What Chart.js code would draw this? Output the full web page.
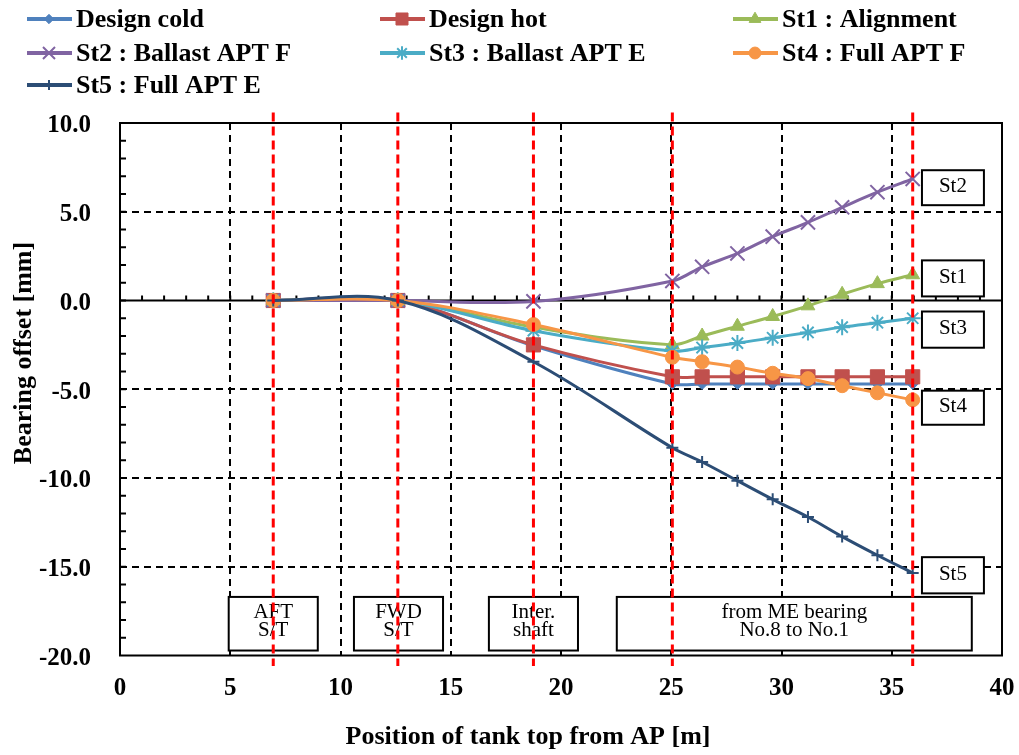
<!DOCTYPE html>
<html>
<head>
<meta charset="utf-8">
<script src="https://cdn.jsdelivr.net/npm/chart.js"></script>
<style>
  html, body { margin: 0; background: #fff; }
  #wrap { width: 1019px; height: 755px; }
</style>
</head>
<body>
<div id="wrap"><canvas id="chart" width="1019" height="755"></canvas></div>
<script>
// bearing positions [m] (tank top from AP)
const positions = [6.95, 12.6, 18.75, 25.05, 26.4, 28.0, 29.6, 31.2, 32.75, 34.35, 35.95];

// bearing offsets [mm]
const designCold = [0, 0, -2.55, -4.7, -4.7, -4.7, -4.7, -4.7, -4.7, -4.7, -4.7];
const designHot  = [0, 0, -2.5, -4.3, -4.3, -4.3, -4.3, -4.3, -4.3, -4.3, -4.3];
const st1 = [0, 0, -1.5, -2.5, -2.0, -1.45, -0.9, -0.3, 0.35, 0.95, 1.45];
const st2 = [0, 0, -0.05, 1.1, 1.9, 2.65, 3.6, 4.4, 5.25, 6.1, 6.85];
const st3 = [0, 0, -1.7, -2.85, -2.65, -2.4, -2.1, -1.8, -1.5, -1.25, -1.0];
const st4 = [0, 0, -1.35, -3.2, -3.45, -3.75, -4.1, -4.4, -4.8, -5.2, -5.6];
const st5 = [0, 0, -3.45, -8.3, -9.1, -10.15, -11.2, -12.2, -13.3, -14.35, -15.35];

const seriesNames = ["Design cold", "Design hot", "St1 : Alignment", "St2 : Ballast APT F",
  "St3 : Ballast APT E", "St4 : Full APT F", "St5 : Full APT E"];

// red section lines and their labels
const sectionLines = [6.95, 12.6, 18.75, 25.05, 35.95];
const sectionLabels = [["AFT", "S/T"], ["FWD", "S/T"], ["Inter.", "shaft"], ["from ME bearing", "No.8 to No.1"]];
const caseLabels = ["St2", "St1", "St3", "St4", "St5"];

// --- layout / styling below ---
const SERIF = "'Liberation Serif', 'Times New Roman', serif";
const styles = [
  { color: "#4F81BD", point: "rectRot", r: 5.5, bw: 1 },
  { color: "#C0504D", point: "rect", r: 10, bw: 1 },
  { color: "#9BBB59", point: "triangle", r: 8, bw: 1 },
  { color: "#8064A2", point: "crossRot", r: 10, bw: 2 },
  { color: "#4BACC6", point: "star", r: 8, bw: 2 },
  { color: "#F79646", point: "circle", r: 7, bw: 1 },
  { color: "#2C4D75", point: "cross", r: 6, bw: 2 },
];
const seriesValues = [designCold, designHot, st1, st2, st3, st4, st5];

// boxes in data units
const sectionBoxes = [[4.93, 8.97], [10.61, 14.65], [16.73, 20.77], [22.53, 38.63]];
const sectionBoxY = [-16.7, -19.72];
const caseBoxX = [36.37, 39.18];
const caseBoxY = [[7.34, 5.37], [2.26, 0.23], [-0.62, -2.66], [-5.08, -7.0], [-14.46, -16.5]];

const legendCols = [27, 380, 733];
const legendRows = [19, 53, 85];

const datasets = seriesValues.map((vals, i) => ({
  label: seriesNames[i],
  data: vals.map((v, k) => ({ x: positions[k], y: v })),
  borderColor: styles[i].color,
  backgroundColor: styles[i].color,
  pointStyle: styles[i].point,
  pointRadius: styles[i].r,
  pointBorderWidth: styles[i].bw,
  pointBackgroundColor: styles[i].color,
  pointBorderColor: styles[i].color,
  borderWidth: 3,
  tension: 0.35,
  order: seriesValues.length - i,
}));

function seg(ctx, x0, y0, x1, y1) {
  ctx.beginPath(); ctx.moveTo(x0, y0); ctx.lineTo(x1, y1); ctx.stroke();
}

const decor = {
  id: "decor",
  beforeDatasetsDraw(chart) {
    const { ctx, chartArea: a, scales: { x, y } } = chart;
    ctx.save();
    ctx.strokeStyle = "#000";
    ctx.lineWidth = 2;
    // zero line and minor ticks
    const y0 = y.getPixelForValue(0);
    seg(ctx, a.left, y0, a.right, y0);
    for (let v = -19; v < 10; v++) {
      const py = y.getPixelForValue(v);
      seg(ctx, a.left, py, a.left + 6, py);
    }
    for (let v = 1; v < 40; v++) {
      const px = x.getPixelForValue(v);
      seg(ctx, px, y0, px, y0 - 5);
    }
    // label boxes
    ctx.font = "21px " + SERIF;
    ctx.textAlign = "center";
    ctx.textBaseline = "middle";
    sectionBoxes.forEach((b, i) => {
      const l = x.getPixelForValue(b[0]), r = x.getPixelForValue(b[1]);
      const t = y.getPixelForValue(sectionBoxY[0]), bt = y.getPixelForValue(sectionBoxY[1]);
      ctx.fillStyle = "#fff";
      ctx.fillRect(l, t, r - l, bt - t);
      ctx.strokeRect(l, t, r - l, bt - t);
      ctx.fillStyle = "#000";
      ctx.fillText(sectionLabels[i][0], (l + r) / 2, t + 16);
      ctx.fillText(sectionLabels[i][1], (l + r) / 2, t + 34);
    });
    caseBoxY.forEach((b, i) => {
      const l = x.getPixelForValue(caseBoxX[0]), r = x.getPixelForValue(caseBoxX[1]);
      const t = y.getPixelForValue(b[0]), bt = y.getPixelForValue(b[1]);
      ctx.fillStyle = "#fff";
      ctx.fillRect(l, t, r - l, bt - t);
      ctx.strokeRect(l, t, r - l, bt - t);
      ctx.fillStyle = "#000";
      ctx.fillText(caseLabels[i], (l + r) / 2, (t + bt) / 2 - 1);
    });
    ctx.restore();
  },
  afterDatasetsDraw(chart) {
    const { ctx, chartArea: a, scales: { x } } = chart;
    ctx.save();
    ctx.strokeStyle = "#000";
    ctx.lineWidth = 2;
    ctx.strokeRect(a.left, a.top, a.right - a.left, a.bottom - a.top);
    ctx.strokeStyle = "#FF0000";
    ctx.lineWidth = 3;
    ctx.setLineDash([9, 5]);
    sectionLines.forEach(v => {
      const px = x.getPixelForValue(v);
      seg(ctx, px, a.top - 10.5, px, a.bottom + 10.5);
    });
    ctx.restore();
  },
  afterDraw(chart) {
    const { ctx } = chart;
    ctx.save();
    ctx.fillStyle = "#000";
    ctx.font = "bold 26px " + SERIF;
    ctx.textAlign = "center";
    ctx.textBaseline = "middle";
    ctx.fillText("Position of tank top from AP [m]", 528, 737);
    ctx.translate(24, 353);
    ctx.rotate(-Math.PI / 2);
    ctx.fillText("Bearing offset [mm]", 0, 0);
    ctx.restore();

    // legend
    ctx.save();
    ctx.font = "bold 26px " + SERIF;
    ctx.textBaseline = "middle";
    ctx.textAlign = "left";
    styles.forEach((s, i) => {
      const cx = legendCols[i % 3], cy = legendRows[Math.floor(i / 3)];
      ctx.strokeStyle = s.color;
      ctx.fillStyle = s.color;
      ctx.lineWidth = 4;
      seg(ctx, cx, cy, cx + 45, cy);
      ctx.lineWidth = s.bw;
      if (Chart.helpers && Chart.helpers.drawPoint) {
        Chart.helpers.drawPoint(ctx, { pointStyle: s.point, radius: s.r * 0.85, rotation: 0, borderWidth: s.bw }, cx + 22, cy);
      }
      ctx.fillStyle = "#000";
      ctx.fillText(seriesNames[i], cx + 49, cy + 1);
    });
    ctx.restore();
  },
};

new Chart(document.getElementById("chart"), {
  type: "line",
  data: { datasets },
  plugins: [decor],
  options: {
    responsive: false,
    animation: false,
    devicePixelRatio: 1,
    layout: { padding: { top: 123, right: 17, left: 0, bottom: 0 } },
    plugins: { legend: { display: false }, tooltip: { enabled: false } },
    scales: {
      x: {
        type: "linear",
        min: 0, max: 40,
        afterFit(s) { s.height = 99.5; s.paddingLeft = 0; s.paddingRight = 0; },
        border: { display: false, dash: [7, 5] },
        grid: {
          drawTicks: false,
          lineWidth: 2,
          color: c => (c.tick && (c.tick.value === 0 || c.tick.value === 40)) ? "rgba(0,0,0,0)" : "#000",
        },
        ticks: {
          stepSize: 5,
          padding: 18,
          color: "#000",
          font: { family: SERIF, size: 25, weight: "bold" },
        },
      },
      y: {
        min: -20, max: 10,
        afterFit(s) { s.width = 120; s.paddingTop = 0; s.paddingBottom = 0; },
        border: { display: false, dash: [7, 5] },
        grid: {
          drawTicks: false,
          lineWidth: 2,
          color: c => (c.tick && (c.tick.value === 10 || c.tick.value === -20 || c.tick.value === 0)) ? "rgba(0,0,0,0)" : "#000",
        },
        ticks: {
          stepSize: 5,
          padding: 29,
          labelOffset: 3,
          color: "#000",
          font: { family: SERIF, size: 25, weight: "bold" },
          callback: v => v.toFixed(1),
        },
      },
    },
  },
});
</script>
</body>
</html>
